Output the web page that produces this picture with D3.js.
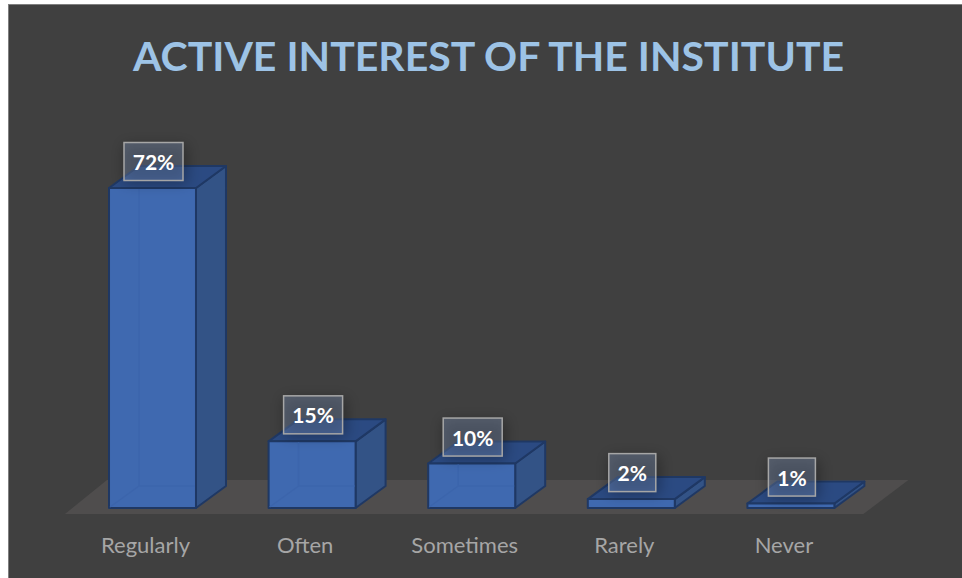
<!DOCTYPE html>
<html>
<head>
<meta charset="utf-8">
<script src="https://cdn.jsdelivr.net/npm/d3@7"></script>
<style>
  html, body { margin: 0; padding: 0; background: #fff; }
  svg { display: block; }
</style>
</head>
<body>
<svg id="chart"></svg>
<script>
const categories = ["Regularly", "Often", "Sometimes", "Rarely", "Never"];
const values = [72, 15, 10, 2, 1];
const chartTitle = "ACTIVE INTEREST OF THE INSTITUTE";

const width = 962;
const height = 578;
const depthX = 30; // oblique offset of the back face
const depthY = -22;
const baseY = 508;

const svg = d3.select("#chart").attr("width", width).attr("height", height);

// soft shadow behind the value labels
const defs = svg.append("defs");
defs.append("filter")
  .attr("id", "labelShadow")
  .attr("x", "-50%").attr("y", "-50%").attr("width", "200%").attr("height", "200%")
  .append("feGaussianBlur")
  .attr("stdDeviation", 7);

// chart area, the frame only shows on the top and left
svg.append("rect")
  .attr("x", 8.5).attr("y", 4.5)
  .attr("width", 960).attr("height", 580)
  .attr("fill", "#404040")
  .attr("stroke", "#7f7f7f");

svg.append("text")
  .attr("x", 488.5)
  .attr("y", 71)
  .attr("text-anchor", "middle")
  .attr("font-family", "Lato, sans-serif")
  .attr("font-weight", 700)
  .attr("font-size", 41)
  .attr("fill", "#9dc3e6")
  .text(chartTitle);

const x = d3.scaleBand()
  .domain(categories)
  .range([72.7, 870.7])
  .paddingInner(0.455)
  .paddingOuter(0.2275);

const y = d3.scaleLinear().domain([0, 72]).range([baseY, 188]);

const line = d3.line();

// floor plane
const floorLeft = x(categories[0]) - 44;
const floorRight = x(categories[categories.length - 1]) + x.bandwidth() + 29;
svg.append("path")
  .attr("d", line([
    [floorLeft, baseY + 6],
    [floorRight, baseY + 6],
    [floorRight + 45, baseY - 28],
    [floorLeft + 42, baseY - 28]
  ]) + "Z")
  .attr("fill", "#4f4d4d");

const rows = categories.map((c, i) => ({ category: c, value: values[i] }));

const bars = svg.append("g").selectAll("g").data(rows).join("g");

const corners = (d) => {
  const x0 = x(d.category);
  const x1 = x0 + x.bandwidth();
  return { x0, x1, top: y(d.value), bottom: y(0) };
};

// side face
bars.append("path")
  .attr("d", (d) => {
    const c = corners(d);
    return line([
      [c.x1, c.top],
      [c.x1 + depthX, c.top + depthY],
      [c.x1 + depthX, c.bottom + depthY],
      [c.x1, c.bottom]
    ]) + "Z";
  })
  .attr("fill", "#335386")
  .attr("stroke", "#1f3864")
  .attr("stroke-width", 2)
  .attr("stroke-linejoin", "round");

// top face
bars.append("path")
  .attr("d", (d) => {
    const c = corners(d);
    return line([
      [c.x0, c.top],
      [c.x0 + depthX, c.top + depthY],
      [c.x1 + depthX, c.top + depthY],
      [c.x1, c.top]
    ]) + "Z";
  })
  .attr("fill", "#2b4a82")
  .attr("stroke", "#1f3864")
  .attr("stroke-width", 2)
  .attr("stroke-linejoin", "round");

// front face
bars.append("rect")
  .attr("x", (d) => x(d.category))
  .attr("y", (d) => y(d.value))
  .attr("width", x.bandwidth())
  .attr("height", (d) => y(0) - y(d.value))
  .attr("fill", "#3f69b0")
  .attr("stroke", "#1f3864")
  .attr("stroke-width", 2)
  .attr("stroke-linejoin", "round");

// back edges that show faintly through the translucent front
bars.filter((d) => y(0) - y(d.value) > -depthY)
  .append("path")
  .attr("d", (d) => {
    const c = corners(d);
    return `M${c.x0 + depthX},${c.top + 1}V${c.bottom + depthY}H${c.x1 - 1}`
      + `M${c.x0 + 1},${c.bottom - 1}L${c.x0 + depthX},${c.bottom + depthY}`;
  })
  .attr("fill", "none")
  .attr("stroke", "#3c65ac")
  .attr("stroke-width", 1.5);

// value labels
const labels = svg.append("g").selectAll("g").data(rows).join("g")
  .attr("transform", (d) => `translate(${x(d.category) + x.bandwidth() / 2 + 1},${y(d.value) - 7})`);

const boxWidth = (d) => (d.value >= 10 ? 59 : 47);

labels.append("rect")
  .attr("x", (d) => -boxWidth(d) / 2)
  .attr("y", -36)
  .attr("width", (d) => boxWidth(d) + 4)
  .attr("height", 38)
  .attr("fill", "#000")
  .attr("fill-opacity", 0.3)
  .attr("filter", "url(#labelShadow)");

labels.append("rect")
  .attr("x", (d) => -boxWidth(d) / 2)
  .attr("y", -38.5)
  .attr("width", boxWidth)
  .attr("height", 38)
  .attr("fill", "#8fa9d6")
  .attr("fill-opacity", 0.3)
  .attr("stroke", "#a6a6a6")
  .attr("stroke-width", 1.5);

labels.append("text")
  .attr("y", -11)
  .attr("text-anchor", "middle")
  .attr("font-family", "Lato, sans-serif")
  .attr("font-weight", 700)
  .attr("font-size", 21)
  .attr("fill", "#fff")
  .text((d) => d.value + "%");

// category axis, labels only
const axis = svg.append("g")
  .attr("transform", `translate(-7,${baseY + 26})`)
  .call(d3.axisBottom(x).tickSize(0).tickPadding(3));
axis.select(".domain").remove();
axis.selectAll("text")
  .attr("font-family", "Lato, sans-serif")
  .attr("font-size", 22)
  .attr("fill", "#a6a6a6");
</script>
</body>
</html>
